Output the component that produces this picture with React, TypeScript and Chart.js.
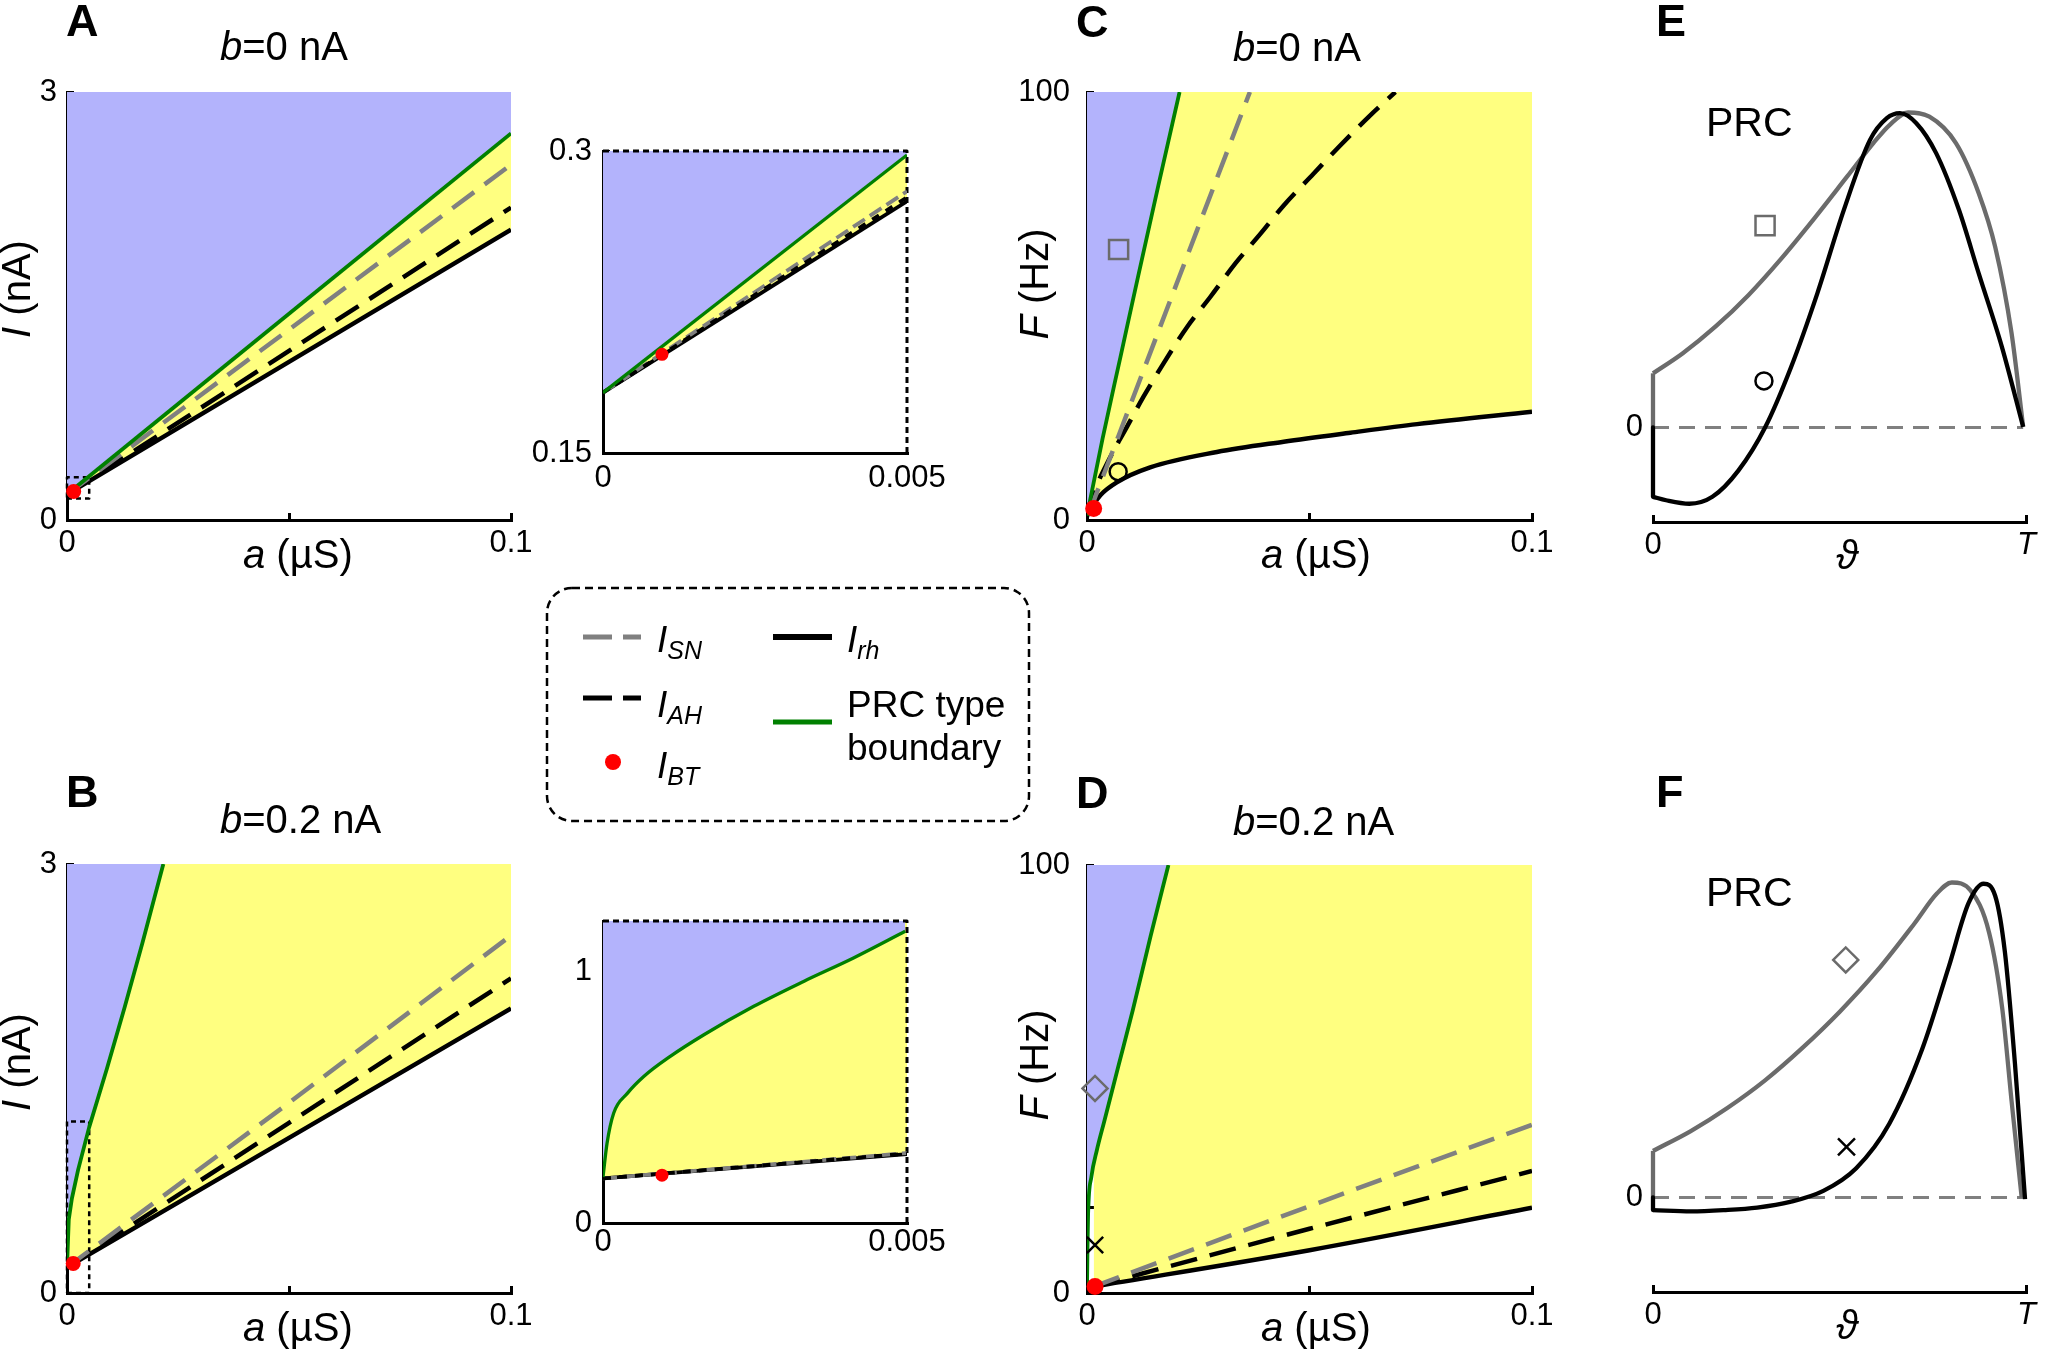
import React, { useEffect, useRef } from 'react';
import { Chart, registerables } from 'chart.js';

Chart.register(...registerables);

const FONT = "'Liberation Sans', Arial, Helvetica, sans-serif";
Chart.defaults.font.family = FONT;
const TICK_SIZE = 31;

// ---------------- colours ----------------
const BLUE = '#b3b3fc';
const YELLOW = '#ffff80';
const GREEN = '#008000';
const GREY = '#808080';
const PRC_GREY = '#6b6b6b';
const RED = '#ff0000';

// ---------------- Panel A : b = 0 nA (I vs a) ----------------
const A_A = [0, 0.05, 0.1];
const A_BOUNDARY = [0.18, 1.445, 2.71];
const A_I_SN = [0.18, 1.335, 2.49];
const A_I_AH = [0.18, 1.185, 2.19];
const A_I_RH = [0.18, 1.108, 2.035];
const A_BT = { x: 0.0015, y: 0.2 };
const A_ZOOM_A = [0, 0.005];
const A_ZOOM_I = [0.15, 0.3];

// inset of A
const AI_A = [0, 0.005];
const AI_BOUNDARY = [0.18, 0.298];
const AI_I_SN = [0.18, 0.28];
const AI_I_AH = [0.18, 0.277];
const AI_I_RH = [0.18, 0.275];
const AI_BT = { x: 0.00097, y: 0.199 };

// ---------------- Panel B : b = 0.2 nA (I vs a) ----------------
const B_BOUNDARY_A = [0, 0.0004, 0.0011, 0.0025, 0.005, 0.009, 0.013, 0.017, 0.0217];
const B_BOUNDARY = [0.183, 0.515, 0.661, 0.861, 1.16, 1.57, 2.0, 2.45, 3.0];
const B_A = [0, 0.05, 0.1];
const B_I_SN = [0.18, 1.33, 2.5];
const B_I_AH = [0.18, 1.19, 2.2];
const B_I_RH = [0.18, 1.085, 1.99];
const B_BT = { x: 0.0014, y: 0.207 };
const B_ZOOM_A = [0, 0.005];
const B_ZOOM_I = [0, 1.2];

// inset of B
const BI_BOUNDARY_A = [0, 0.000066, 0.000175, 0.0004, 0.00067, 0.0011, 0.00166, 0.00248, 0.0033, 0.00412, 0.00497];
const BI_BOUNDARY = [0.183, 0.316, 0.436, 0.515, 0.582, 0.661, 0.748, 0.861, 0.96, 1.053, 1.159];
const BI_A = [0, 0.005];
const BI_I_SN = [0.177, 0.278];
const BI_I_AH = [0.177, 0.276];
const BI_I_RH = [0.177, 0.274];
const BI_BT = { x: 0.00097, y: 0.19 };

// ---------------- Panel C : b = 0 nA (F vs a) ----------------
const C_BOUNDARY_A = [0, 0.0035, 0.0075, 0.0115, 0.016, 0.0208];
const C_BOUNDARY = [1, 19, 38, 57, 78, 100];
const C_SN_A = [0.0004, 0.0071, 0.0165, 0.0247, 0.0366];
const C_SN = [1.5, 19.7, 45.3, 67.6, 100];
const C_AH_A = [0, 0.0015, 0.0049, 0.009, 0.0127, 0.0172, 0.0225, 0.0277, 0.0333, 0.039, 0.0442, 0.0509, 0.0569, 0.0633, 0.0693];
const C_AH = [0.8, 6.2, 14, 21.8, 28.8, 36.6, 45.1, 52.1, 59.9, 66.9, 73.5, 80.9, 87.5, 94.2, 100];
const C_RH_A = [0.0004, 0.0015, 0.003, 0.0067, 0.0142, 0.0292, 0.0442, 0.0592, 0.0742, 0.1];
const C_RH = [1.2, 3.6, 5.8, 8.8, 12.3, 15.9, 18.3, 20.4, 22.4, 25.3];
const C_BT = { x: 0.0015, y: 2.7 };
const C_SQUARE = { x: 0.0071, y: 63.2 };
const C_CIRCLE = { x: 0.007, y: 11.3 };

// ---------------- Panel D : b = 0.2 nA (F vs a) ----------------
const D_BOUNDARY_A = [0, 0.0001, 0.00025, 0.001, 0.0022, 0.0039, 0.0071, 0.0103, 0.0143, 0.0183];
const D_BOUNDARY = [1, 10, 18.6, 27.2, 33.3, 40.2, 53.2, 66.1, 83.4, 100];
const D_A = [0.0015, 0.05, 0.1];
const D_SN = [1.5, 20.3, 39.3];
const D_AH = [1.5, 15.0, 28.5];
const D_RH = [1.5, 10.0, 19.9];
const D_BT = { x: 0.0018, y: 1.5 };
const D_DIAMOND = { x: 0.0018, y: 47.8 };
const D_CROSS = { x: 0.0018, y: 11.2 };

// ---------------- Panel E : PRC, b = 0 ----------------
const E_GREY_TH = [0, 0.079, 0.167, 0.256, 0.344, 0.432, 0.52, 0.59, 0.634, 0.683, 0.74, 0.811, 0.872, 0.916, 0.96, 0.991];
const E_GREY = [0.172, 0.235, 0.32, 0.421, 0.537, 0.664, 0.797, 0.903, 0.961, 1.0, 0.987, 0.903, 0.744, 0.574, 0.299, 0.002];
const E_BLACK_TH = [0, 0.035, 0.097, 0.159, 0.229, 0.3, 0.37, 0.44, 0.511, 0.581, 0.626, 0.661, 0.705, 0.758, 0.819, 0.872, 0.934, 0.991];
const E_BLACK = [-0.22, -0.231, -0.242, -0.22, -0.136, 0, 0.193, 0.426, 0.691, 0.913, 0.982, 0.998, 0.966, 0.871, 0.691, 0.489, 0.256, 0.002];
const E_SQUARE = { x: 0.3, y: 0.641 };
const E_CIRCLE = { x: 0.297, y: 0.148 };

// ---------------- Panel F : PRC, b = 0.2 ----------------
const F_GREY_TH = [0, 0.1, 0.2, 0.3, 0.4, 0.5, 0.6, 0.7, 0.76, 0.8, 0.85, 0.9, 0.935, 0.96, 0.987];
const F_GREY = [0.148, 0.21, 0.285, 0.372, 0.475, 0.59, 0.72, 0.87, 0.965, 1.0, 0.975, 0.84, 0.6, 0.306, 0];
const F_BLACK_TH = [0, 0.102, 0.19, 0.279, 0.367, 0.456, 0.544, 0.633, 0.721, 0.792, 0.845, 0.885, 0.916, 0.942, 0.969, 0.996];
const F_BLACK = [-0.04, -0.044, -0.04, -0.032, -0.014, 0.021, 0.093, 0.235, 0.472, 0.733, 0.935, 0.996, 0.958, 0.78, 0.425, -0.005];
const F_DIAMOND = { x: 0.516, y: 0.754 };
const F_CROSS = { x: 0.518, y: 0.161 };

const ZERO_TH = [0, 0.991];
const ZERO_V = [0, 0];

// ---------------- ticks ----------------
const A_X_TICKS = [0, 0.05, 0.1];
const A_X_LABELS = ['0', '', '0.1'];
const I_TICKS = [0, 1, 2, 3];
const I_LABELS = ['0', '', '', '3'];
const F_TICKS = [0, 20, 40, 60, 80, 100];
const F_LABELS = ['0', '', '', '', '', '100'];
const INSET_X_TICKS = [0, 0.005];
const INSET_X_LABELS = ['0', '0.005'];
const AI_Y_TICKS = [0.15, 0.3];
const AI_Y_LABELS = ['0.15', '0.3'];
const BI_Y_TICKS = [0, 1];
const BI_Y_LABELS = ['0', '1'];
const PRC_X_TICKS = [0, 1];
const PRC_X_LABELS = ['0', 'T'];
const PRC_Y_TICKS = [0];
const PRC_Y_LABELS = ['0'];

// ---------------- helpers ----------------
type Pt = { x: number; y: number };
const zip = (xs: number[], ys: number[]): Pt[] => xs.map((x, i) => ({ x, y: ys[i] }));
const stub = (xs: number[], ys: number[]): Pt[] => [{ x: xs[0], y: 0 }, { x: xs[0], y: ys[0] }];
const rectPts = (ax: number[], ay: number[]): Pt[] => [
  { x: ax[0], y: ay[0] }, { x: ax[1], y: ay[0] }, { x: ax[1], y: ay[1] }, { x: ax[0], y: ay[1] }, { x: ax[0], y: ay[0] },
];
const topRight = (ax: number[], ay: number[]): Pt[] => [
  { x: ax[0], y: ay[1] }, { x: ax[1], y: ay[1] }, { x: ax[1], y: ay[0] },
];

function curve(data: Pt[], color: string, width: number, dash: number[] = [], fillColor?: string, smooth = false, clip?: any) {
  const ds: any = {
    data, borderColor: color, borderWidth: width, borderDash: dash, borderCapStyle: 'butt', borderJoinStyle: 'round',
    pointRadius: 0, pointHoverRadius: 0, showLine: true, tension: 0,
    fill: fillColor ? 'end' : false, backgroundColor: fillColor || 'rgba(0,0,0,0)',
  };
  if (smooth) ds.cubicInterpolationMode = 'monotone';
  if (clip !== undefined) ds.clip = clip;
  return ds;
}
function marker(p: Pt, style: string, r: number, stroke: string, fillC: string, bw: number) {
  return {
    data: [p], showLine: false, pointStyle: style, pointRadius: r, pointHoverRadius: r,
    pointBorderColor: stroke, pointBackgroundColor: fillC, pointBorderWidth: bw,
    borderColor: stroke, backgroundColor: fillC, clip: false, fill: false,
  };
}
function axis(o: { pos: 'bottom' | 'left'; min: number; max: number; ticks: number[]; labels: string[]; size: number; pad: number; tl: number; border?: boolean; italicIdx?: number }) {
  return {
    type: 'linear', position: o.pos, min: o.min, max: o.max,
    afterBuildTicks: (s: any) => { s.ticks = o.ticks.map((v) => ({ value: v })); },
    afterFit: (s: any) => { if (o.pos === 'bottom') s.height = o.size; else s.width = o.size; },
    border: { display: o.border !== false, color: '#000', width: 3 },
    grid: { display: o.tl !== 0, drawOnChartArea: false, drawTicks: o.tl !== 0, tickLength: o.tl, tickWidth: 3, tickColor: '#000', lineWidth: 3 },
    ticks: {
      autoSkip: false, maxRotation: 0, minRotation: 0, padding: o.pad, color: '#000',
      font: (ctx: any) => ({ size: TICK_SIZE, family: FONT, style: ctx && ctx.index === o.italicIdx ? 'italic' : 'normal' }),
      callback: (_v: any, i: number) => o.labels[i],
    },
  };
}
type M = { l: number; t: number; r: number; b: number };
type R = { x: number; y: number; w: number; h: number };
function config(datasets: any[], x: any, y: any, m: M) {
  return {
    type: 'line',
    data: { datasets },
    options: {
      responsive: false, maintainAspectRatio: false, animation: false, devicePixelRatio: 1, events: [],
      layout: { padding: { left: 0, top: m.t, right: m.r, bottom: 0 } },
      plugins: { legend: { display: false }, tooltip: { enabled: false }, title: { display: false }, filler: { drawTime: 'beforeDatasetsDraw', propagate: false } },
      scales: { x, y },
    },
  };
}

function Panel({ rect, m, make }: { rect: R; m: M; make: (m: M) => any }) {
  const ref = useRef<HTMLCanvasElement>(null);
  useEffect(() => {
    const chart = new Chart(ref.current as HTMLCanvasElement, make(m) as any);
    return () => chart.destroy();
  }, []);
  const W = rect.w + m.l + m.r;
  const H = rect.h + m.t + m.b;
  return (
    <canvas ref={ref} width={W} height={H}
      style={{ position: 'absolute', left: rect.x - m.l, top: rect.y - m.t, width: W, height: H }} />
  );
}

// ---------------- geometry ----------------
const RECT_A: R = { x: 67, y: 92, w: 444, h: 428 };
const RECT_B: R = { x: 67, y: 864, w: 444, h: 429 };
const RECT_AI: R = { x: 603, y: 151, w: 304, h: 302 };
const RECT_BI: R = { x: 603, y: 921, w: 304, h: 302 };
const RECT_C: R = { x: 1087, y: 92, w: 445, h: 428 };
const RECT_D: R = { x: 1087, y: 865, w: 445, h: 428 };
const RECT_E: R = { x: 1653, y: 81, w: 379, h: 441 };
const RECT_F: R = { x: 1653, y: 851, w: 379, h: 441 };

const M_MAIN: M = { l: 67, t: 50, r: 40, b: 60 };
const M_F: M = { l: 80, t: 55, r: 40, b: 60 };
const M_INSET: M = { l: 75, t: 45, r: 60, b: 50 };
const M_PRC: M = { l: 45, t: 40, r: 16, b: 55 };

const DASH = [27, 13];
const LW_GREEN = 3.8;
const LW_BLACK = 4.5;

function makeIA(green: Pt[], sn: Pt[], ah: Pt[], rh: Pt[], bt: Pt, zoomA: number[], zoomI: number[]) {
  return (m: M) => config(
    [
      marker(bt, 'circle', 7.5, RED, RED, 0),
      curve(green, GREEN, LW_GREEN, [], BLUE),
      curve(sn, GREY, LW_BLACK, DASH),
      curve(ah, '#000', LW_BLACK, DASH),
      curve(rh, '#000', LW_BLACK, [], YELLOW),
      curve(rectPts(zoomA, zoomI), '#000', 2.5, [5, 4], undefined, false, false),
    ],
    axis({ pos: 'bottom', min: 0, max: 0.1, ticks: A_X_TICKS, labels: A_X_LABELS, size: m.b, pad: 12, tl: -7 }),
    axis({ pos: 'left', min: 0, max: 3, ticks: I_TICKS, labels: I_LABELS, size: m.l, pad: 17, tl: -7 }),
    m,
  );
}
function makeInset(green: Pt[], sn: Pt[], ah: Pt[], rh: Pt[], bt: Pt, ax: number[], ay: number[], yt: number[], yl: string[], xpad: number, smooth: boolean) {
  return (m: M) => config(
    [
      marker(bt, 'circle', 6.5, RED, RED, 0),
      curve(green, GREEN, 3.3, [], BLUE, smooth),
      curve(ah, '#000', 3.8, [8, 8]),
      curve(sn, GREY, 3.8, [14, 6]),
      curve(rh, '#000', 3.8, [], YELLOW),
      curve(topRight(ax, ay), '#000', 3, [6, 4], undefined, false, false),
    ],
    axis({ pos: 'bottom', min: ax[0], max: ax[1], ticks: INSET_X_TICKS, labels: INSET_X_LABELS, size: m.b, pad: xpad, tl: 0 }),
    axis({ pos: 'left', min: ay[0], max: ay[1], ticks: yt, labels: yl, size: m.l, pad: 18, tl: -7 }),
    m,
  );
}
function makeFA(green: Pt[], sn: Pt[], ah: Pt[], rh: Pt[], bt: Pt, marks: any[]) {
  return (m: M) => config(
    [
      ...marks,
      marker(bt, 'circle', 8.5, RED, RED, 0),
      curve(green, GREEN, LW_GREEN, [], BLUE, true),
      curve(sn, GREY, LW_BLACK, DASH, undefined, true),
      curve(ah, '#000', LW_BLACK, DASH, undefined, true),
      curve(rh, '#000', LW_BLACK, [], YELLOW, true),
    ],
    axis({ pos: 'bottom', min: 0, max: 0.1, ticks: A_X_TICKS, labels: A_X_LABELS, size: m.b, pad: 12, tl: -7 }),
    axis({ pos: 'left', min: 0, max: 100, ticks: F_TICKS, labels: F_LABELS, size: m.l, pad: 24, tl: -7 }),
    m,
  );
}
function makePRC(gth: number[], g: number[], kth: number[], k: number[], marks: any[]) {
  return (m: M) => config(
    [
      ...marks,
      curve(zip(kth, k), '#000', 4.3, [], undefined, true, false),
      curve(stub(kth, k), '#000', 4.3, [], undefined, false, false),
      curve(zip(gth, g), PRC_GREY, 4.3, [], undefined, true, false),
      curve(stub(gth, g), PRC_GREY, 4.3, [], undefined, false, false),
      curve(zip(ZERO_TH, ZERO_V), GREY, 3, [16, 10], undefined, false, false),
    ],
    axis({ pos: 'bottom', min: 0, max: 1, ticks: PRC_X_TICKS, labels: PRC_X_LABELS, size: m.b, pad: 12, tl: -7, italicIdx: 1 }),
    axis({ pos: 'left', min: -0.3, max: 1.1, ticks: PRC_Y_TICKS, labels: PRC_Y_LABELS, size: m.l, pad: 10, tl: 0, border: false }),
    m,
  );
}

const makeA = makeIA(zip(A_A, A_BOUNDARY), zip(A_A, A_I_SN), zip(A_A, A_I_AH), zip(A_A, A_I_RH), A_BT, A_ZOOM_A, A_ZOOM_I);
const makeB = makeIA(zip(B_BOUNDARY_A, B_BOUNDARY), zip(B_A, B_I_SN), zip(B_A, B_I_AH), zip(B_A, B_I_RH), B_BT, B_ZOOM_A, B_ZOOM_I);
const makeAI = makeInset(zip(AI_A, AI_BOUNDARY), zip(AI_A, AI_I_SN), zip(AI_A, AI_I_AH), zip(AI_A, AI_I_RH), AI_BT, A_ZOOM_A, A_ZOOM_I, AI_Y_TICKS, AI_Y_LABELS, 7, false);
const makeBI = makeInset(zip(BI_BOUNDARY_A, BI_BOUNDARY), zip(BI_A, BI_I_SN), zip(BI_A, BI_I_AH), zip(BI_A, BI_I_RH), BI_BT, B_ZOOM_A, B_ZOOM_I, BI_Y_TICKS, BI_Y_LABELS, 1, true);
const makeC = makeFA(zip(C_BOUNDARY_A, C_BOUNDARY), zip(C_SN_A, C_SN), zip(C_AH_A, C_AH), zip(C_RH_A, C_RH), C_BT, [
  marker(C_SQUARE, 'rect', 13.5, PRC_GREY, 'rgba(0,0,0,0)', 2.5),
  marker(C_CIRCLE, 'circle', 8.5, '#000', 'rgba(0,0,0,0)', 2.5),
]);
const makeD = makeFA(zip(D_BOUNDARY_A, D_BOUNDARY), zip(D_A, D_SN), zip(D_A, D_AH), zip(D_A, D_RH), D_BT, [
  marker(D_DIAMOND, 'rectRot', 12.5, PRC_GREY, 'rgba(0,0,0,0)', 2.5),
  marker(D_CROSS, 'crossRot', 11.5, '#000', 'rgba(0,0,0,0)', 2.5),
]);
const makeE = makePRC(E_GREY_TH, E_GREY, E_BLACK_TH, E_BLACK, [
  marker(E_SQUARE, 'rect', 13.5, PRC_GREY, 'rgba(0,0,0,0)', 2.5),
  marker(E_CIRCLE, 'circle', 8.5, '#000', 'rgba(0,0,0,0)', 2.5),
]);
const makeF = makePRC(F_GREY_TH, F_GREY, F_BLACK_TH, F_BLACK, [
  marker(F_DIAMOND, 'rectRot', 12.5, PRC_GREY, 'rgba(0,0,0,0)', 2.5),
  marker(F_CROSS, 'crossRot', 12, '#000', 'rgba(0,0,0,0)', 2.5),
]);

// ---------------- text overlay ----------------
function Overlay() {
  const big = 40;
  const letter = (x: number, y: number, s: string) => (
    <text x={x} y={y} fontSize={45} fontWeight="bold">{s}</text>
  );
  const title = (x: number, y: number, b: string) => (
    <text x={x} y={y} fontSize={big}><tspan fontStyle="italic">b</tspan>={b} nA</text>
  );
  const xlab = (x: number, y: number) => (
    <text x={x} y={y} fontSize={big}><tspan fontStyle="italic">a</tspan> (µS)</text>
  );
  const ylab = (x: number, y: number, v: string, u: string) => (
    <text x={x} y={y} fontSize={big} textAnchor="middle" transform={`rotate(-90 ${x} ${y})`}>
      <tspan fontStyle="italic">{v}</tspan> ({u})
    </text>
  );
  const sub = (x: number, y: number, main: string, s: string) => (
    <text x={x} y={y} fontSize={37} fontStyle="italic">{main}<tspan fontSize={25} dy={7}>{s}</tspan></text>
  );
  return (
    <svg width={2049} height={1350} style={{ position: 'absolute', left: 0, top: 0, pointerEvents: 'none' }}
      fontFamily={FONT} fill="#000">
      {letter(66, 36, 'A')}
      {letter(66, 807, 'B')}
      {letter(1076, 37, 'C')}
      {letter(1076, 808, 'D')}
      {letter(1656, 36, 'E')}
      {letter(1656, 807, 'F')}

      {title(220, 60, '0')}
      {title(220, 833, '0.2')}
      {title(1233, 61, '0')}
      {title(1233, 835, '0.2')}

      {xlab(243, 568)}
      {xlab(243, 1341)}
      {xlab(1261, 568)}
      {xlab(1261, 1341)}

      {ylab(30, 289, 'I', 'nA')}
      {ylab(30, 1062, 'I', 'nA')}
      {ylab(1048, 284, 'F', 'Hz')}
      {ylab(1048, 1065, 'F', 'Hz')}

      <text x={1706} y={136} fontSize={41}>PRC</text>
      <text x={1706} y={906} fontSize={41}>PRC</text>
      <text x={1847} y={569} fontSize={big} textAnchor="middle" fontStyle="italic">ϑ</text>
      <text x={1847} y={1339} fontSize={big} textAnchor="middle" fontStyle="italic">ϑ</text>

      {/* legend */}
      <rect x={547} y={588} width={482} height={233} rx={25} ry={25} fill="none" stroke="#000" strokeWidth={2.5} strokeDasharray="8 5" />
      <line x1={583} y1={637} x2={641} y2={637} stroke={GREY} strokeWidth={5} strokeDasharray="29 11" />
      <line x1={583} y1={698} x2={641} y2={698} stroke="#000" strokeWidth={5} strokeDasharray="29 11" />
      <circle cx={613} cy={762} r={8} fill={RED} />
      <line x1={773} y1={637} x2={832} y2={637} stroke="#000" strokeWidth={6} />
      <line x1={773} y1={722} x2={832} y2={722} stroke={GREEN} strokeWidth={5} />
      {sub(657, 652, 'I', 'SN')}
      {sub(657, 717, 'I', 'AH')}
      {sub(657, 778, 'I', 'BT')}
      {sub(847, 652, 'I', 'rh')}
      <text x={847} y={717} fontSize={37}>PRC type</text>
      <text x={847} y={760} fontSize={37}>boundary</text>
    </svg>
  );
}

export default function App() {
  return (
    <div style={{ position: 'absolute', left: 0, top: 0, width: 2049, height: 1350, overflow: 'hidden', background: '#fff' }}>
      <Panel rect={RECT_A} m={M_MAIN} make={makeA} />
      <Panel rect={RECT_AI} m={M_INSET} make={makeAI} />
      <Panel rect={RECT_C} m={M_F} make={makeC} />
      <Panel rect={RECT_E} m={M_PRC} make={makeE} />
      <Panel rect={RECT_B} m={M_MAIN} make={makeB} />
      <Panel rect={RECT_BI} m={M_INSET} make={makeBI} />
      <Panel rect={RECT_D} m={M_F} make={makeD} />
      <Panel rect={RECT_F} m={M_PRC} make={makeF} />
      <Overlay />
    </div>
  );
}
